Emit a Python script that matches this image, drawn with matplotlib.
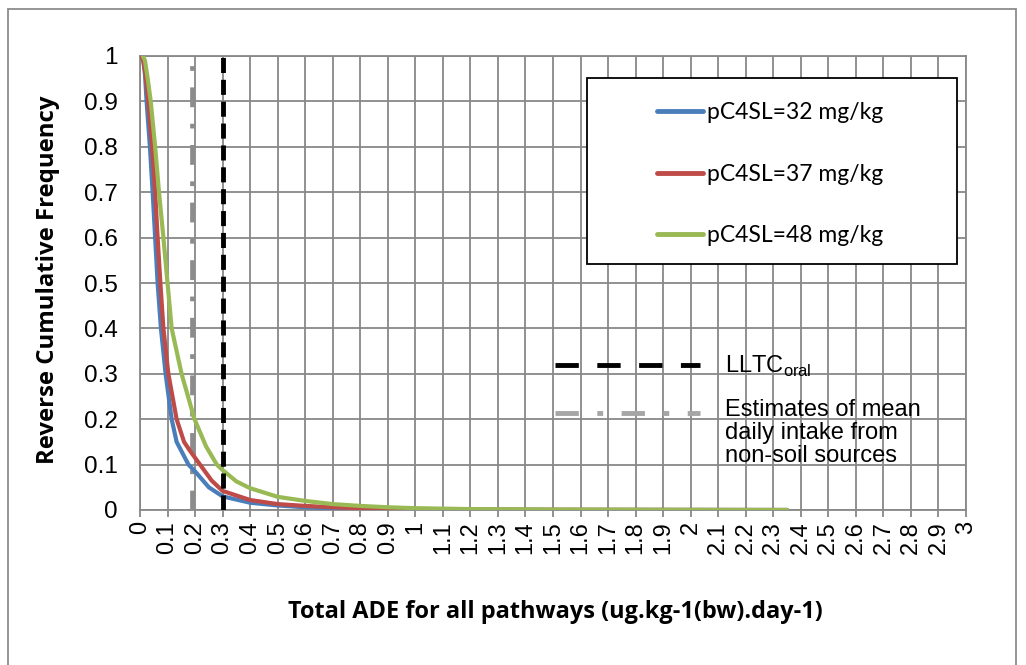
import numpy as np
import matplotlib.pyplot as plt
from matplotlib.patches import Rectangle
from matplotlib.lines import Line2D
from matplotlib.legend_handler import HandlerLine2D

# reverse cumulative frequency curves
blue_x = [0.005, 0.012, 0.018, 0.024, 0.036, 0.046, 0.055, 0.064, 0.076, 0.093,
          0.115, 0.133, 0.176, 0.2, 0.25, 0.3, 0.4, 0.5, 0.6, 0.7, 0.8, 1.0,
          1.2, 1.5, 2.0, 2.35]
blue_y = [1.0, 0.99, 0.96, 0.9, 0.8, 0.7, 0.6, 0.5, 0.4, 0.3,
          0.2, 0.15, 0.1, 0.085, 0.05, 0.03, 0.016, 0.01, 0.006, 0.004, 0.002, 0.001,
          0.0005, 0.0002, 0.0001, 0.0]

red_x = [0.005, 0.012, 0.02, 0.03, 0.044, 0.055, 0.064, 0.074, 0.085, 0.103,
         0.133, 0.16, 0.182, 0.218, 0.26, 0.3, 0.4, 0.5, 0.6, 0.7, 0.8, 1.0,
         1.2, 1.5, 2.0, 2.35]
red_y = [1.0, 0.99, 0.96, 0.9, 0.8, 0.7, 0.6, 0.5, 0.4, 0.3,
         0.2, 0.15, 0.13, 0.1, 0.065, 0.042, 0.022, 0.013, 0.009, 0.006, 0.004, 0.002,
         0.001, 0.0005, 0.0002, 0.0]

green_x = [0.01, 0.018, 0.028, 0.039, 0.055, 0.069, 0.085, 0.1, 0.115, 0.151,
           0.198, 0.24, 0.279, 0.3, 0.35, 0.4, 0.5, 0.6, 0.7, 0.8, 0.9, 1.0,
           1.2, 1.5, 2.0, 2.35]
green_y = [1.0, 0.99, 0.95, 0.9, 0.8, 0.7, 0.6, 0.5, 0.4, 0.3,
           0.2, 0.14, 0.1, 0.088, 0.063, 0.048, 0.029, 0.02, 0.013, 0.009, 0.006, 0.004,
           0.002, 0.001, 0.0003, 0.0]

series_labels = ['pC4SL=32 mg/kg', 'pC4SL=37 mg/kg', 'pC4SL=48 mg/kg']
lltc = 0.3
non_soil = 0.19

x_ticks = [round(i * 0.1, 1) for i in range(31)]
y_ticks = [round(i * 0.1, 1) for i in range(11)]
x_ticklabels = ['0' if v == 0 else ('%g' % v) for v in x_ticks]
y_ticklabels = ['0' if v == 0 else ('%g' % v) for v in y_ticks]

blue, red, green = '#4A7EBB', '#BE4B48', '#98B954'
grid_col = '#888888'


class ShiftedLine(HandlerLine2D):
    # legend line drawn higher than the middle of a multi-line label
    def __init__(self, shift, **kw):
        super().__init__(**kw)
        self.shift = shift

    def create_artists(self, legend, orig_handle, xdescent, ydescent,
                       width, height, fontsize, trans):
        arts = super().create_artists(legend, orig_handle, xdescent, ydescent,
                                      width, height, fontsize, trans)
        for a in arts:
            a.set_ydata(np.asarray(a.get_ydata()) + self.shift)
        return arts


fig = plt.figure(figsize=(10.26, 6.65), dpi=100)
ax = fig.add_axes([140 / 1026, 1 - 510 / 665, 826 / 1026, 454 / 665])

# outer chart border
fig.patches.append(Rectangle((8 / 1026, -0.05), 1008 / 1026, 1.05 - 9 / 665,
                             transform=fig.transFigure, fill=False,
                             edgecolor='#8c8c8c', linewidth=1.3))

ax.plot(blue_x, blue_y, color=blue, lw=3, solid_capstyle='round', zorder=4)
ax.plot(red_x, red_y, color=red, lw=3, solid_capstyle='round', zorder=4)
ax.plot(green_x, green_y, color=green, lw=3, solid_capstyle='round', zorder=4)

ax.axvline(non_soil, color='#8c8c8c', lw=3.4, dashes=(4.2, 3.5, 1.0, 3.5), zorder=3)
ax.axvline(lltc, color='black', lw=3.5, dashes=(3.1, 1.4), zorder=5)

ax.set_xlim(0, 3)
ax.set_ylim(0, 1)
ax.set_xticks(x_ticks)
ax.set_xticklabels(x_ticklabels, rotation=90, fontsize=17, family='Liberation Sans')
ax.set_yticks(y_ticks)
ax.set_yticklabels(y_ticklabels, fontsize=17.5, family='Liberation Sans')
ax.grid(True, color=grid_col, lw=1.3)
ax.set_axisbelow(True)
for s in ax.spines.values():
    s.set_color(grid_col)
    s.set_linewidth(1.3)
ax.tick_params(axis='x', direction='out', length=5, color=grid_col, width=1.3, pad=3)
ax.tick_params(axis='y', length=0, pad=16)

ax.set_xlabel('Total ADE for all pathways (ug.kg-1(bw).day-1)', fontsize=16.9,
              fontweight='bold', family='Open Sans')
ax.xaxis.set_label_coords(0.503, -0.198)
ax.set_ylabel('Reverse Cumulative Frequency', fontsize=17.2, fontweight='bold',
              family='Open Sans')
ax.yaxis.set_label_coords(-0.097, 0.507)

# legend for the three curves, inside a black box
ax.add_patch(Rectangle((0.541, 0.542), 0.448, 0.41, transform=ax.transAxes,
                       facecolor='white', edgecolor='black', lw=1.3, zorder=6))
h1 = [Line2D([], [], color=c, lw=3.5, solid_capstyle='round')
      for c in [blue, red, green]]
leg1 = ax.legend(h1, series_labels, loc='center', bbox_to_anchor=(0.763, 0.74),
                 frameon=False, prop={'family': 'Lato', 'size': 16.5},
                 handlelength=2.0, handletextpad=0.2, labelspacing=1.76)
leg1.set_zorder(7)
ax.add_artist(leg1)

# legend for the reference lines
h2 = [Line2D([], [], color='black', lw=3.5, dashes=(4.8, 3.8)),
      Line2D([], [], color='#a6a6a6', lw=3.5, dashes=(4.8, 3.8, 1.2, 3.8))]
lab2 = ['LLTC$_{\\mathregular{oral}}$', 'Estimates of mean\ndaily intake from\nnon-soil sources']
leg2 = ax.legend(h2, lab2, loc='upper left', bbox_to_anchor=(0.502, 0.344),
                 frameon=False, prop={'family': 'Liberation Sans', 'size': 17},
                 handlelength=6.15, handletextpad=1.06, labelspacing=0.84,
                 borderpad=0, borderaxespad=0,
                 handler_map={h2[1]: ShiftedLine(14)})
for t in leg2.get_texts():
    t.set_linespacing(1.05)
leg2.set_zorder(7)

fig.savefig('out.png', dpi=100)
